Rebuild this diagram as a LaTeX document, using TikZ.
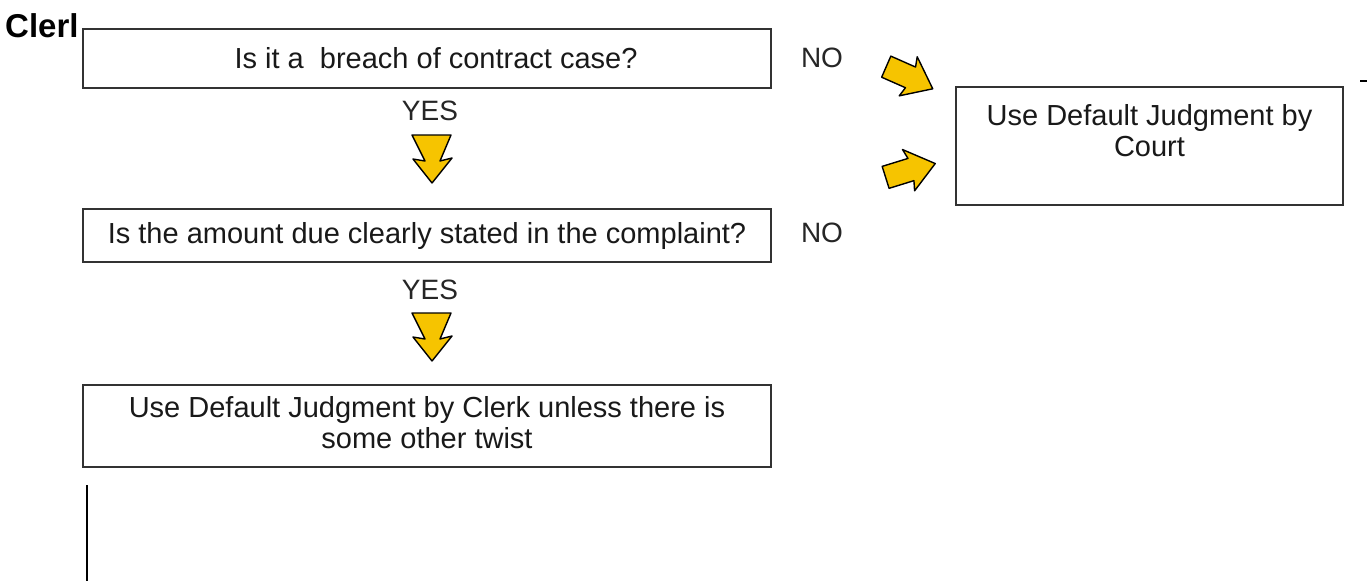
\documentclass[tikz,border=0pt]{standalone}
\usepackage{fontspec}
\setmainfont{Liberation Sans}
\definecolor{arrowyellow}{RGB}{246,196,0}
\definecolor{boxline}{RGB}{50,50,50}
\definecolor{txtcol}{RGB}{25,25,25}
\begin{document}
\begin{tikzpicture}[x=1pt,y=-1pt,
  box/.style={draw=boxline, line width=1.8pt, fill=white, inner sep=0pt},
  txt/.style={font=\fontsize{29}{31}\selectfont, inner sep=0pt, align=center, text=txtcol},
  lbl/.style={font=\fontsize{28}{30}\selectfont, inner sep=0pt, text=black!85},
  yesarrow/.pic={\draw[fill=arrowyellow, line width=1.4pt, line join=round]
     (0,-19) -- (26,-8) -- (23,-20) -- (48,0) -- (24,19) -- (26,7) -- (0,20) -- cycle;},
  noarrow/.pic={\draw[fill=arrowyellow, line width=1.4pt, line join=round]
     (0,-11) -- (27,-12) -- (24,-22) -- (52,0) -- (25,21) -- (27,11) -- (1,12) -- cycle;}
]
\useasboundingbox (0,0) rectangle (1367,581);

\node[font=\fontsize{33}{36}\selectfont\bfseries, anchor=base west, inner sep=0pt] (clerk) at (5,37) {Clerl};

% boxes
\node[box, minimum width=688pt, minimum height=59pt] (q1) at (427,58.5) {};
\node[txt] (q1t) at (436,58.5) {Is it a\ \ breach of contract case?};
\node[box, txt, minimum width=688pt, minimum height=53pt] (q2) at (427,235.5) {Is the amount due clearly stated in the complaint?};
\node[box, minimum width=688pt, minimum height=82pt] (res) at (427,426) {};
\node[txt, anchor=north] (rest) at (427,396) {Use Default Judgment by Clerk unless there is\\some other twist};
\node[box, minimum width=387pt, minimum height=118pt] (court) at (1149.5,146) {};
\node[txt, anchor=north] (courtt) at (1149.5,104) {Use Default Judgment by\\Court};

% labels
\node[lbl] (no1) at (822,58) {NO};
\node[lbl] (no2) at (822,233) {NO};
\node[lbl] (yes1) at (430,111) {YES};
\node[lbl] (yes2) at (430,290) {YES};

% arrows
\pic[rotate=-90] at (432,135) {yesarrow};
\pic[rotate=-90] at (432,313) {yesarrow};
\pic[rotate=-26] at (886,66) {noarrow};
\pic[rotate=15] at (885,177) {noarrow};

% stray lines
\coordinate (d1) at (1360,81);
\coordinate (d2) at (1367,81);
\draw[line width=1.2pt] (d1) -- (d2);
\coordinate (l1) at (87,485);
\coordinate (l2) at (87,581);
\draw[line width=1.6pt] (l1) -- (l2);
\end{tikzpicture}
\end{document}
